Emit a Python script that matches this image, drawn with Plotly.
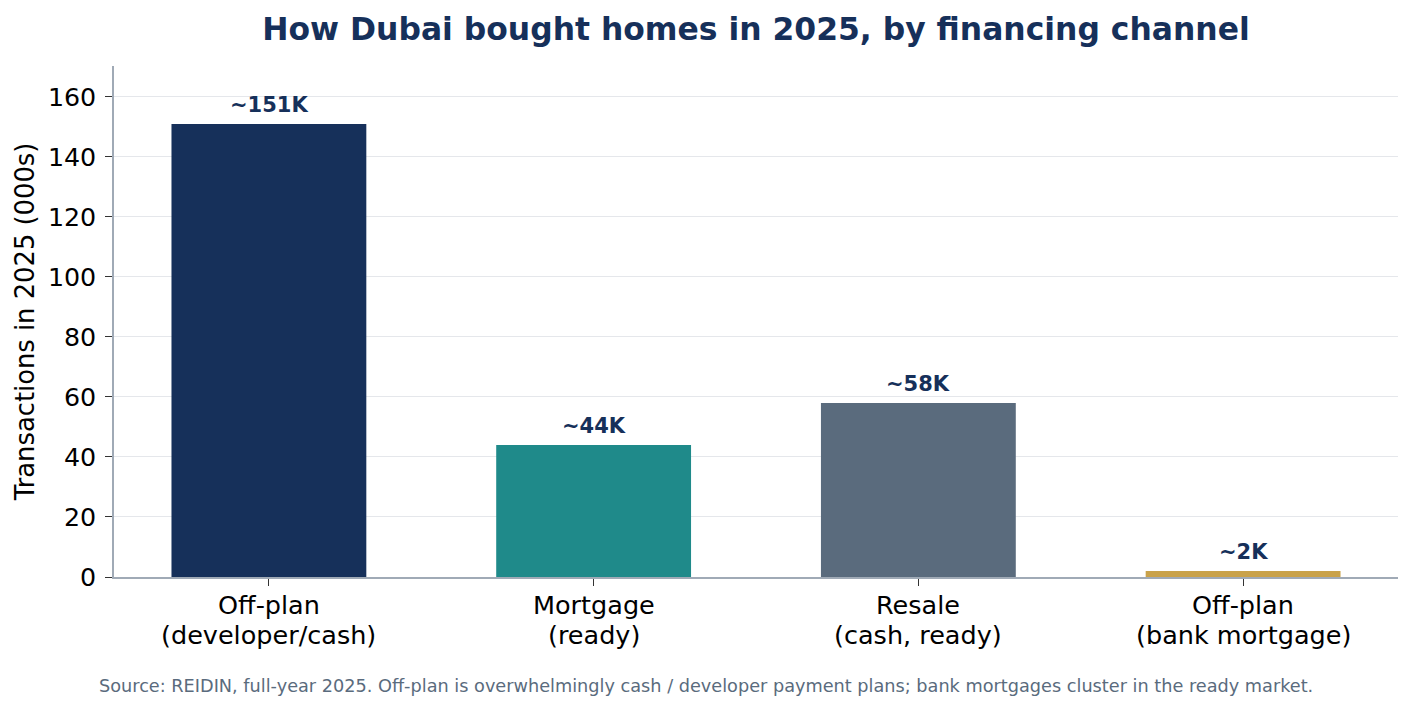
import plotly.graph_objects as go

categories = ["Off-plan<br>(developer/cash)", "Mortgage<br>(ready)", "Resale<br>(cash, ready)", "Off-plan<br>(bank mortgage)"]
values = [151, 44, 58, 2]
labels = ["~151K", "~44K", "~58K", "~2K"]
colors = ["#16305A", "#1F8A8A", "#5A6B7D", "#C9A24A"]

FONT = "DejaVu Sans"
NAVY = "#16305A"
PLOT_H = 709 - 66 - 132

fig = go.Figure()
fig.add_trace(go.Bar(
    x=list(range(len(categories))), y=values, width=0.6,
    marker=dict(color=colors, line=dict(width=0)),
    hoverinfo="skip",
))
for i, (v, t) in enumerate(zip(values, labels)):
    fig.add_annotation(x=i, y=v, text=f"<b>{t}</b>", showarrow=False,
                       yanchor="bottom", yshift=5,
                       font=dict(family=FONT, size=21, color=NAVY))

# category labels (two lines each, matplotlib-like line spacing)
for i, cat in enumerate(categories):
    for j, line in enumerate(cat.split("<br>")):
        fig.add_annotation(x=i, xref="x", y=-(28 + 30 * j) / PLOT_H, yref="paper",
                           text=line, showarrow=False, xanchor="center", yanchor="middle",
                           font=dict(family=FONT, size=25.5, color="black"))

fig.add_annotation(
    x=0.461, y=-0.213, xref="paper", yref="paper", xanchor="center", yanchor="middle",
    text="Source: REIDIN, full-year 2025. Off-plan is overwhelmingly cash / developer payment plans; bank mortgages cluster in the ready market.",
    showarrow=False, font=dict(family=FONT, size=17.7, color="#5A6B7D"))

fig.update_layout(
    width=1413, height=709,
    margin=dict(l=114, r=15, t=66, b=132),
    paper_bgcolor="white", plot_bgcolor="white",
    showlegend=False,
    font=dict(family=FONT, color="black"),
    title=dict(text="<b>How Dubai bought homes in 2025, by financing channel</b>",
               x=0.5, xref="paper", xanchor="center",
               y=1 - 29 / 709, yref="container", yanchor="middle",
               font=dict(family=FONT, size=31.4, color=NAVY)),
    xaxis=dict(
        tickmode="array", tickvals=list(range(len(categories))), showticklabels=False,
        range=[-0.477, 3.477], showgrid=False, zeroline=False,
        showline=True, linecolor="#A0AAB6", linewidth=1.5,
        ticks="outside", ticklen=7, tickcolor="#333333", tickwidth=1.2,
    ),
    yaxis=dict(
        range=[0, 170.3], tickvals=[0, 20, 40, 60, 80, 100, 120, 140, 160],
        showgrid=True, gridcolor="#E5E7EB", gridwidth=1, zeroline=False,
        showline=True, linecolor="#A0AAB6", linewidth=1.5,
        ticks="outside", ticklen=7, tickcolor="#333333", tickwidth=1.2,
        ticklabelstandoff=4,
        tickfont=dict(family=FONT, size=25.3, color="black"),
        title=dict(text="Transactions in 2025 (000s)", standoff=6,
                   font=dict(family=FONT, size=25.8, color="black")),
    ),
)

fig.write_html("out.html")
